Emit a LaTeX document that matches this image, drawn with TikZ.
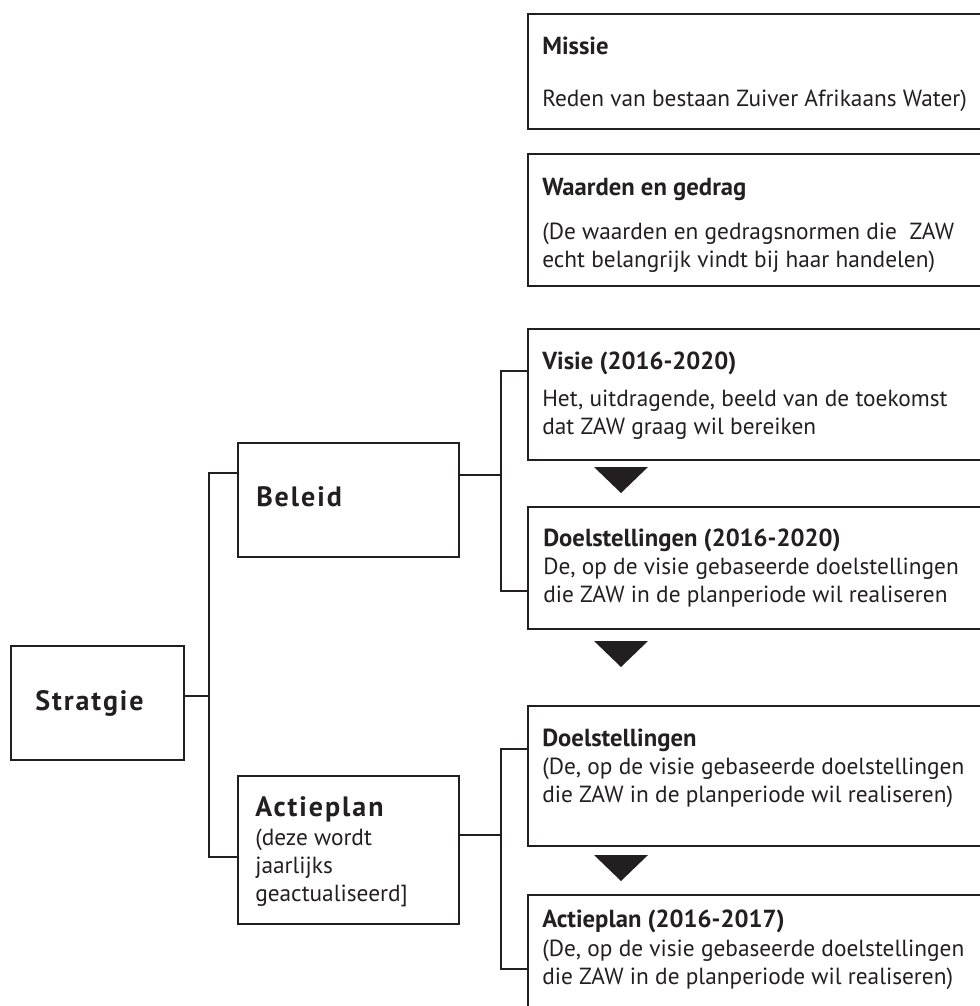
\documentclass[tikz,border=0pt]{standalone}
\usepackage{fontspec}
\setmainfont{PT Sans}
\newlength{\du}
\setlength{\du}{0.75pt}
\definecolor{zawcolor}{rgb}{0.137255, 0.121569, 0.125490}
\tikzset{
  blok/.style={draw=zawcolor, line width=2\du, rectangle, inner sep=0pt, anchor=north west},
  lijn/.style={draw=zawcolor, line width=2\du},
  pijl/.style={fill=zawcolor},
  kop/.style={anchor=base west, inner sep=0pt, text=zawcolor, font=\fontsize{18.5}{21}\selectfont\bfseries},
  tekst/.style={anchor=base west, inner sep=0pt, text=zawcolor, align=left, font=\fontsize{17.5}{21}\selectfont},
  hoofdkop/.style={anchor=base west, inner sep=0pt, text=zawcolor, font=\fontsize{21}{24}\selectfont\bfseries\addfontfeatures{LetterSpace=7}}
}
\begin{document}
\begin{tikzpicture}
\pgftransformyscale{-1.000000}
\useasboundingbox (0,0) rectangle (980\du,1006\du);
\clip (0,0) rectangle (980\du,1006\du);
% linker kolom
\node[blok, minimum width=173\du, minimum height=114\du] (stratgie) at (10\du,645\du) {};
\node[blok, minimum width=221\du, minimum height=114\du] (beleid) at (237\du,442\du) {};
\node[blok, minimum width=221\du, minimum height=148\du] (actieplan) at (237\du,775\du) {};
\node[hoofdkop] (stratgietxt) at (35\du,710\du) {Stratgie};
\node[hoofdkop] (beleidtxt) at (256\du,506\du) {Beleid};
\node[hoofdkop] (actieplantxt) at (255\du,816\du) {Actieplan};
\node[tekst] (actieplanbody) at (255\du,901\du) {(deze wordt\\jaarlijks\\geactualiseerd]};
% rechter kolom
\node[blok, minimum width=470\du, minimum height=115\du] (missie) at (527\du,13\du) {};
\node[blok, minimum width=470\du, minimum height=132\du] (waarden) at (527\du,153\du) {};
\node[blok, minimum width=470\du, minimum height=131\du] (visie) at (527\du,328\du) {};
\node[blok, minimum width=470\du, minimum height=122\du] (doel) at (527\du,506\du) {};
\node[blok, minimum width=470\du, minimum height=140\du] (doelap) at (527\du,705\du) {};
\node[blok, minimum width=470\du, minimum height=140\du] (plan) at (527\du,894\du) {};
\node[kop] (missietxt) at (542\du,55\du) {Missie};
\node[tekst] (missiebody) at (542\du,106\du) {Reden van bestaan Zuiver Afrikaans Water)};
\node[kop] (waardentxt) at (542\du,195\du) {Waarden en gedrag};
\node[tekst] (waardenbody) at (542\du,267\du) {(De waarden en gedragsnormen die\ \ ZAW\\echt belangrijk vindt bij haar handelen)};
\node[kop] (visietxt) at (542\du,369\du) {Visie (2016-2020)};
\node[tekst] (visiebody) at (542\du,434\du) {Het, uitdragende, beeld van de toekomst\\dat ZAW graag wil bereiken};
\node[kop] (doeltxt) at (543\du,546\du) {Doelstellingen (2016-2020)};
\node[tekst] (doelbody) at (543\du,602\du) {De, op de visie gebaseerde doelstellingen\\die ZAW in de planperiode wil realiseren};
\node[kop] (doelaptxt) at (542\du,746\du) {Doelstellingen};
\node[tekst] (doelapbody) at (542\du,802\du) {(De, op de visie gebaseerde doelstellingen\\die ZAW in de planperiode wil realiseren)};
\node[kop] (plantxt) at (542\du,927\du) {Actieplan (2016-2017)};
\node[tekst] (planbody) at (542\du,984\du) {(De, op de visie gebaseerde doelstellingen\\die ZAW in de planperiode wil realiseren)};
% verbindingen
\coordinate (sj) at (209\du,696\du);
\coordinate (bj) at (501\du,475\du);
\coordinate (aj) at (501\du,835\du);
\draw[lijn] (stratgie.east |- sj) -- (sj);
\draw[lijn] (beleid.west |- 0,473\du) -| (sj) |- (actieplan.west |- 0,857\du);
\draw[lijn] (beleid.east |- bj) -- (bj);
\draw[lijn] (visie.west |- 0,371\du) -| (bj) |- (doel.west |- 0,591\du);
\draw[lijn] (actieplan.east |- aj) -- (aj);
\draw[lijn] (doelap.west |- 0,749\du) -| (aj) |- (plan.west |- 0,969\du);
% driehoeken
\fill[pijl] (594\du,467\du) -- (648\du,467\du) -- (621\du,493\du) -- cycle;
\fill[pijl] (594\du,641\du) -- (648\du,641\du) -- (621\du,667\du) -- cycle;
\fill[pijl] (594\du,855\du) -- (648\du,855\du) -- (621\du,881\du) -- cycle;
\end{tikzpicture}
\end{document}
